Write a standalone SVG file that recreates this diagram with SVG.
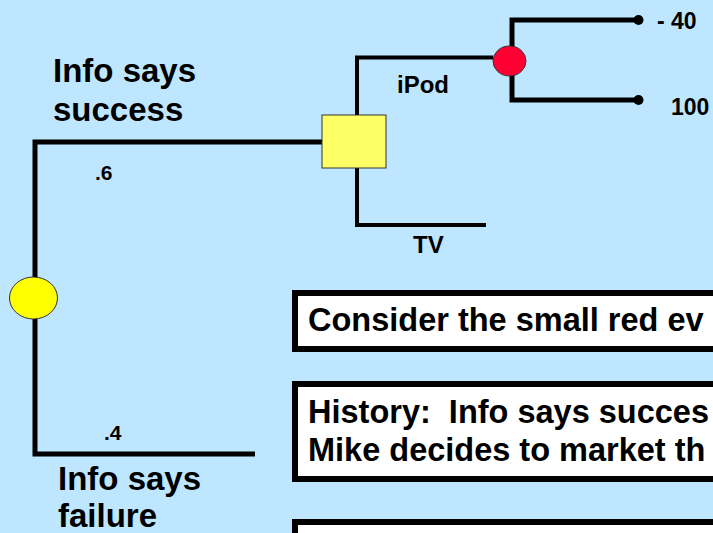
<svg xmlns="http://www.w3.org/2000/svg" width="713" height="533" viewBox="0 0 713 533">
<style>
text{font-family:"Liberation Sans",Arial,sans-serif;font-weight:bold;fill:#000;white-space:pre}
.big{font-size:33px}
.box-t{font-size:32.5px}
.mid{font-size:24px}
.val{font-size:23px}
.sm{font-size:21px}
.ln{stroke:#000;fill:none;stroke-linecap:butt;stroke-linejoin:miter}
.box{fill:#fff;stroke:#000;stroke-width:6}
</style>
<rect width="713" height="533" fill="#BFE6FF"/>
<g id="connectors">
<polyline class="ln" stroke-width="5" points="255,454 35,454 35,142 322,142"/>
<polyline class="ln" stroke-width="4" points="493,57.5 357,57.5 357,115"/>
<polyline class="ln" stroke-width="4" points="357,168 357,225 486,225"/>
<polyline class="ln" stroke-width="5" points="638,20 512,20 512,100 638,100"/>
<circle cx="638.5" cy="20" r="5" fill="#000"/>
<circle cx="638.5" cy="100" r="5" fill="#000"/>
</g>
<g id="chance1">
<ellipse cx="33.5" cy="298" rx="24" ry="21" fill="#FFFF00" stroke="#333" stroke-width="1"/>
</g>
<g id="decision">
<rect x="322" y="115" width="64" height="53" fill="#FFFF66" stroke="#333" stroke-width="1"/>
</g>
<g id="chance2">
<ellipse cx="509.5" cy="61" rx="16.5" ry="15" fill="#FF0033" stroke="#333" stroke-width="1"/>
</g>
<g id="labels">
<text class="big" x="53" y="82">Info says</text>
<text class="big" x="53" y="121">success</text>
<text class="sm" x="95" y="180">.6</text>
<text class="sm" x="104" y="440">.4</text>
<text class="big" x="58" y="490">Info says</text>
<text class="big" x="58" y="527">failure</text>
<text class="mid" x="397" y="93">iPod</text>
<text class="mid" x="413" y="253">TV</text>
<text class="val" x="657" y="29">- 40</text>
<text class="val" x="671" y="115">100</text>
</g>
<g id="box1">
<rect class="box" x="295" y="293" width="440" height="56"/>
<text class="box-t" x="308" y="331">Consider the small red ev</text>
</g>
<g id="box2">
<rect class="box" x="295" y="384" width="440" height="95"/>
<text class="box-t" x="308" y="423">History:  Info says succes</text>
<text class="box-t" x="308" y="461">Mike decides to market th</text>
</g>
<g id="box3">
<rect class="box" x="295" y="522" width="440" height="40"/>
</g>
</svg>
